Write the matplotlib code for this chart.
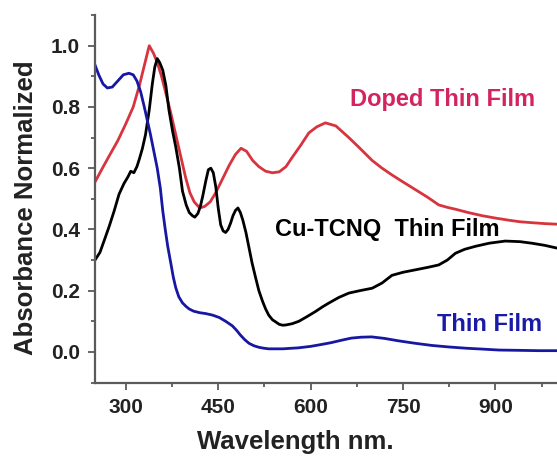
import matplotlib
matplotlib.use("Agg")
import matplotlib.pyplot as plt
from matplotlib.ticker import MultipleLocator

plt.rcParams["font.family"] = ["Liberation Sans", "DejaVu Sans"]
plt.rcParams["font.weight"] = "bold"

# wavelength (nm) / normalized absorbance, read per curve
wl_doped = [250, 262, 273, 287, 300, 312, 322, 330, 338, 345, 351, 358, 365, 373, 381,
            389, 397, 404, 411, 420, 428, 437, 446, 457, 468, 478, 487, 496, 506,
            516, 527, 538, 549, 560, 570, 584, 597, 610, 624, 641, 662, 680, 700,
            716, 732, 750, 770, 790, 808, 822, 835, 856, 878, 900, 922, 940, 959,
            980, 1000]
ab_doped = [0.555, 0.60, 0.64, 0.69, 0.745, 0.80, 0.87, 0.935, 1.00, 0.975, 0.945, 0.90,
            0.845, 0.78, 0.71, 0.64, 0.57, 0.52, 0.49, 0.47, 0.475, 0.49, 0.52, 0.565,
            0.61, 0.645, 0.665, 0.655, 0.625, 0.605, 0.59, 0.585, 0.588, 0.605, 0.635,
            0.675, 0.715, 0.735, 0.748, 0.738, 0.70, 0.665, 0.625, 0.60, 0.578, 0.555,
            0.53, 0.505, 0.48, 0.472, 0.466, 0.455, 0.445, 0.437, 0.43, 0.425, 0.422,
            0.419, 0.417]

wl_cu = [250, 258, 266, 273, 281, 289, 297, 303, 308, 313, 318, 322, 327, 332, 338,
         343, 347, 351, 355, 360, 365, 370, 376, 381, 387, 392, 398, 403, 408, 412,
         417, 421, 425, 430, 434, 438, 442, 446, 450, 454, 458, 462, 466, 470, 474,
         478, 482, 486, 490, 495, 500, 505, 511, 516, 522, 527, 532, 538, 544, 549,
         555, 560, 570, 581, 594, 608, 620, 630, 646, 662, 680, 700, 716, 732, 750,
         770, 790, 808, 822, 835, 850, 868, 890, 916, 940, 959, 980, 1000]
ab_cu = [0.30, 0.325, 0.37, 0.41, 0.46, 0.515, 0.55, 0.57, 0.59, 0.585, 0.605, 0.63,
         0.665, 0.71, 0.79, 0.875, 0.93, 0.958, 0.945, 0.92, 0.87, 0.79, 0.72, 0.67,
         0.60, 0.525, 0.48, 0.455, 0.445, 0.44, 0.452, 0.475, 0.51, 0.56, 0.595,
         0.60, 0.585, 0.54, 0.47, 0.415, 0.395, 0.39, 0.40, 0.42, 0.445, 0.462, 0.47,
         0.455, 0.43, 0.39, 0.34, 0.29, 0.24, 0.20, 0.165, 0.14, 0.12, 0.105, 0.097,
         0.09, 0.087, 0.088, 0.092, 0.10, 0.115, 0.132, 0.148, 0.16, 0.178, 0.192,
         0.20, 0.208, 0.225, 0.25, 0.26, 0.268, 0.276, 0.284, 0.30, 0.322, 0.335,
         0.345, 0.355, 0.362, 0.36, 0.355, 0.348, 0.339]

wl_film = [250, 256, 263, 270, 278, 287, 296, 305, 312, 318, 324, 330, 335, 340, 346,
           351, 356, 360, 364, 368, 373, 377, 381, 386, 392, 398, 403, 410, 420, 430,
           441, 452, 462, 473, 480, 486, 493, 500, 508, 516, 524, 532, 540, 555, 570,
           579, 600, 617, 633, 650, 666, 682, 699, 720, 743, 770, 797, 825, 852, 880,
           906, 940, 970, 1000]
ab_film = [0.937, 0.905, 0.875, 0.862, 0.865, 0.885, 0.905, 0.91, 0.905, 0.885, 0.85,
           0.80, 0.755, 0.71, 0.65, 0.60, 0.535, 0.46, 0.40, 0.345, 0.29, 0.245, 0.21,
           0.18, 0.16, 0.148, 0.14, 0.133, 0.128, 0.125, 0.12, 0.112, 0.10, 0.085,
           0.07, 0.055, 0.04, 0.028, 0.02, 0.015, 0.012, 0.01, 0.01, 0.01, 0.012,
           0.013, 0.018, 0.024, 0.03, 0.038, 0.045, 0.048, 0.049, 0.044, 0.036, 0.028,
           0.021, 0.016, 0.012, 0.009, 0.006, 0.005, 0.004, 0.004]

RED = "#d8343f"
BLUE = "#1717a3"
AXIS = "#5a5a5a"
INK = "#222222"

fig = plt.figure(figsize=(5.57, 4.57), dpi=100)
ax = fig.add_axes([0.1706, 0.163, 0.8294, 0.804])

ax.plot(wl_doped, ab_doped, color=RED, lw=2.0)
ax.plot(wl_cu, ab_cu, color="black", lw=2.0)
ax.plot(wl_film, ab_film, color=BLUE, lw=2.0)

ax.text(814, 0.823, "Doped Thin Film", color="#d4245e", fontsize=17,
        fontweight="bold", ha="center", va="center")
ax.text(724, 0.40, "Cu-TCNQ  Thin Film", color="black", fontsize=17,
        fontweight="bold", ha="center", va="center")
ax.text(891, 0.088, "Thin Film", color="#1a1aa8", fontsize=17,
        fontweight="bold", ha="center", va="center")

ax.set_xlim(250, 1000)
ax.set_ylim(-0.1, 1.1)
ax.set_xticks([300, 450, 600, 750, 900])
ax.set_yticks([0.0, 0.2, 0.4, 0.6, 0.8, 1.0])
ax.set_yticklabels(["0.0", "0.2", "0.4", "0.6", "0.8", "1.0"])
ax.xaxis.set_minor_locator(MultipleLocator(75))
ax.yaxis.set_minor_locator(MultipleLocator(0.1))
ax.tick_params(which="major", direction="out", length=5, width=1.3, color=AXIS,
               labelsize=15, labelcolor=INK, pad=6)
ax.tick_params(which="minor", direction="out", length=3, width=1.3, color=AXIS)

ax.spines[["top", "right"]].set_visible(False)
for s in ("left", "bottom"):
    ax.spines[s].set_color(AXIS)
    ax.spines[s].set_linewidth(1.6)

ax.set_xlabel("Wavelength nm.", fontsize=18.5, fontweight="bold", color=INK)
ax.set_ylabel("Absorbance Normalized", fontsize=18.5, fontweight="bold", color=INK)
ax.xaxis.set_label_coords(0.433, -0.13)
ax.yaxis.set_label_coords(-0.123, 0.476)

fig.savefig("out.png", dpi=100)
